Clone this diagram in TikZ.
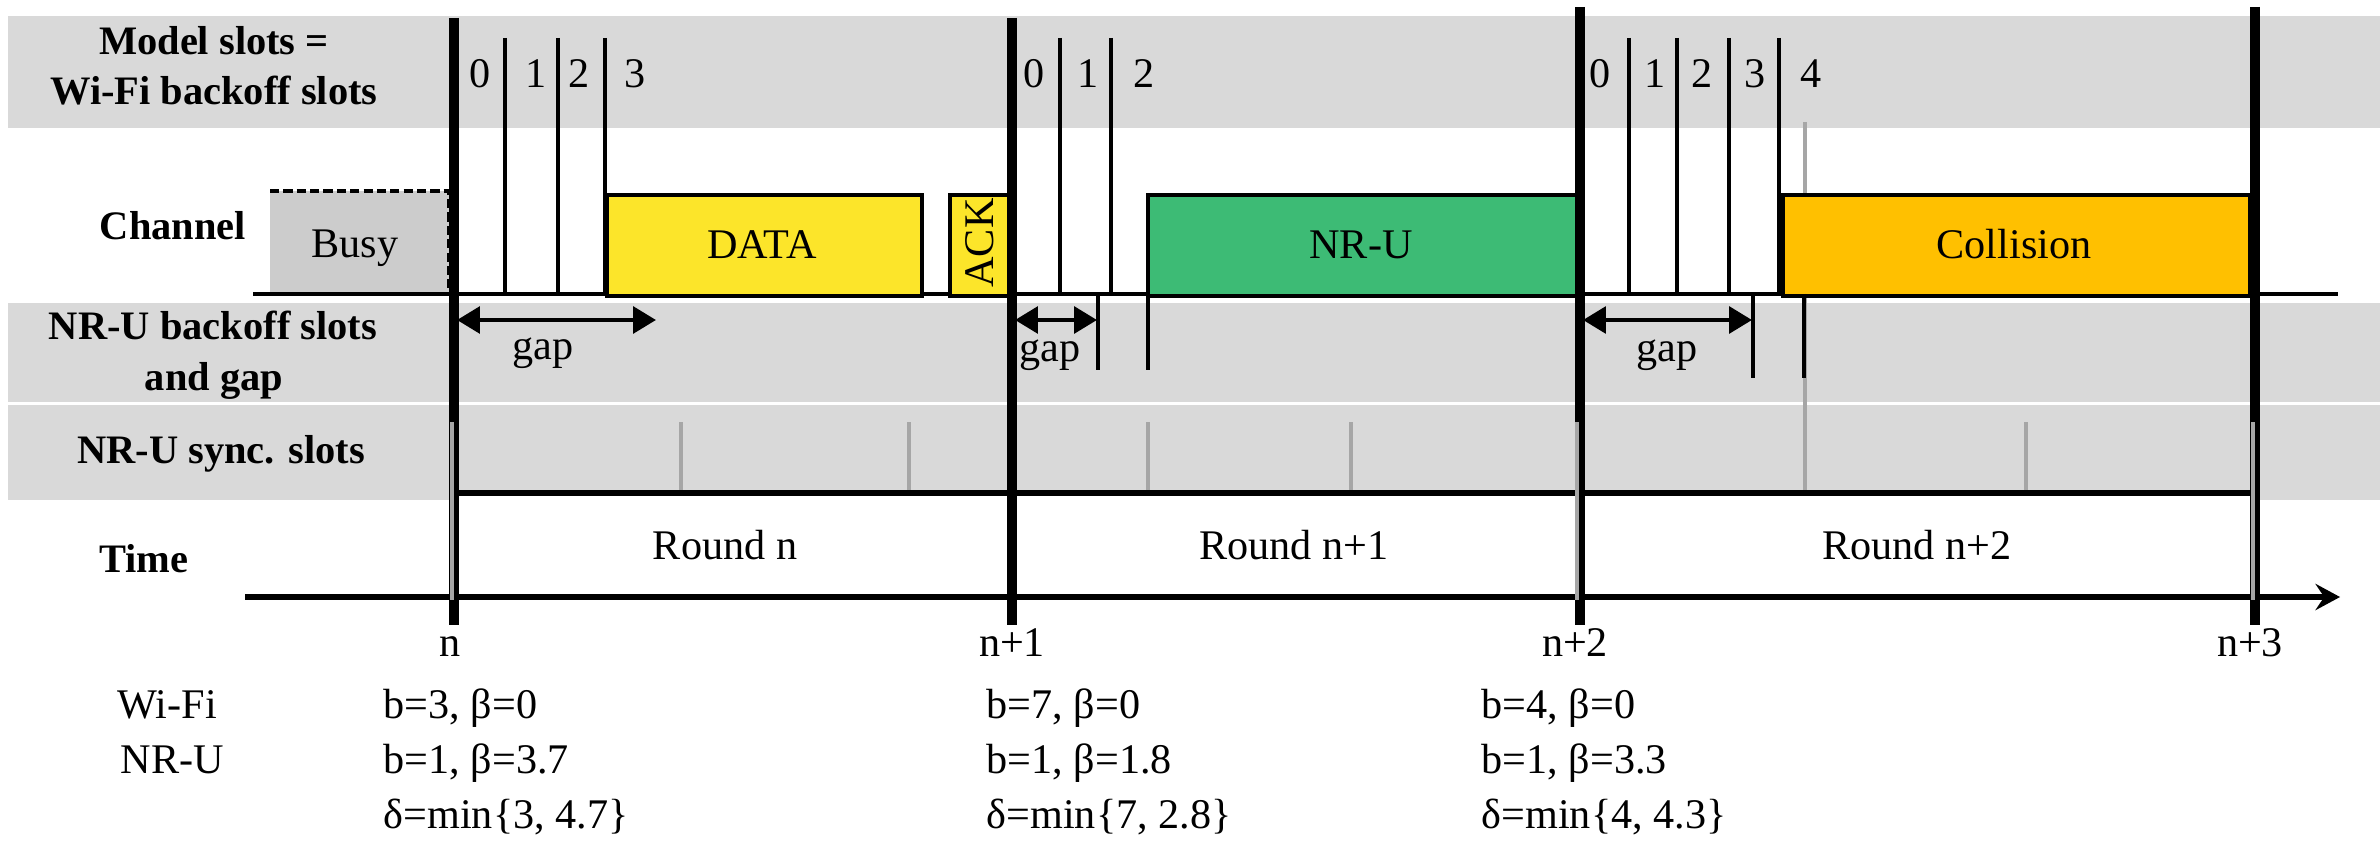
\documentclass[tikz,border=0pt]{standalone}
\usepackage{fontspec}
\setmainfont{Liberation Serif}
\usetikzlibrary{arrows.meta}
\definecolor{band}{HTML}{D9D9D9}
\definecolor{busyfill}{HTML}{CCCCCC}
\definecolor{tickgray}{HTML}{A6A6A6}
\definecolor{datayellow}{HTML}{FCE52A}
\definecolor{nrugreen}{HTML}{3DBB75}
\definecolor{collgold}{HTML}{FFC000}
\tikzset{
  lab/.style={font=\fontsize{11.5}{14}\selectfont\bfseries, inner sep=0pt, anchor=base},
  txt/.style={font=\fontsize{12}{14}\selectfont, inner sep=0pt, anchor=base},
  valtxt/.style={font=\fontsize{12}{14}\selectfont, inner sep=0pt, anchor=base west},
  bar/.style={line width=2.6pt},
  slotline/.style={line width=0.9pt},
  synctick/.style={line width=1pt, draw=tickgray},
  boxframe/.style={draw, line width=1.2pt},
  gaparrow/.style={line width=1.3pt, {Triangle[length=6.5pt,width=7.5pt]}-{Triangle[length=6.5pt,width=7.5pt]}},
  axisline/.style={line width=1.5pt},
}
\begin{document}
\begin{tikzpicture}[x=0.01cm,y=-0.01cm]
\useasboundingbox (0,0) rectangle (2380,846);
% background bands
\fill[band] (8,16) rectangle (2380,128);
\fill[band] (8,303) rectangle (2380,402);
\fill[band] (8,405) rectangle (2380,500);
\fill[white] (454,493) rectangle (2255,597);

% sync ticks (gray)
\foreach \x in {681,909,1148,1351,2026} \draw[synctick] (\x,422) -- (\x,490);
\draw[synctick] (1805,122) -- (1805,490);

% busy box
\fill[busyfill] (270,191) rectangle (449,294);
\draw[line width=1.2pt, dash pattern=on 2.6pt off 1.2pt] (270,191) -- (449,191) -- (449,294) -- (270,294);

% slot lines
\foreach \x in {505,558,605,1060,1111,1629,1677,1729,1779} \draw[slotline] (\x,38) -- (\x,294);

% channel baseline
\draw[line width=1.4pt] (253,294) -- (2338,294);

% transmissions
\node[boxframe, fill=datayellow, minimum width=315*0.01cm, minimum height=101*0.01cm, anchor=north west, inner sep=0pt] (data) at (605,193) {};
\node[txt] (datat) at (762,259) {DATA};
\node[boxframe, fill=datayellow, minimum width=59*0.01cm, minimum height=101*0.01cm, anchor=north west, inner sep=0pt] (ack) at (948,193) {};
\node[font=\fontsize{12}{14}\selectfont, inner sep=0pt, rotate=90] (ackt) at (980,243) {ACK};
\node[boxframe, fill=nrugreen, minimum width=430*0.01cm, minimum height=101*0.01cm, anchor=north west, inner sep=0pt] (nru) at (1146,193) {};
\node[txt] (nrut) at (1361,259) {NR-U};
\node[boxframe, fill=collgold, minimum width=467*0.01cm, minimum height=101*0.01cm, anchor=north west, inner sep=0pt] (coll) at (1781,193) {};
\node[txt] (collt) at (2014,259) {Collision};
\node[txt] (busyt) at (355,258) {Busy};

% NR-U backoff slot lines
\foreach \x in {1098,1148} \draw[slotline] (\x,294) -- (\x,370);
\foreach \x in {1753,1804} \draw[slotline] (\x,294) -- (\x,378);

% rounds
\draw[axisline] (454,493) -- (2255,493);
\draw[axisline, -{Stealth[length=7pt,width=7.5pt,inset=2.5pt]}] (245,597) -- (2340,597);

% round boundaries
\coordinate (r0t) at (454,18);  \coordinate (r0b) at (454,625);
\coordinate (r1t) at (1012,18); \coordinate (r1b) at (1012,625);
\coordinate (r2t) at (1580,7);  \coordinate (r2b) at (1580,625);
\coordinate (r3t) at (2255,7);  \coordinate (r3b) at (2255,625);
\draw[bar] (r0t) -- (r0b);
\draw[bar] (r1t) -- (r1b);
\draw[bar] (r2t) -- (r2b);
\draw[bar] (r3t) -- (r3b);
\foreach \x in {452,1577,2253} \draw[synctick] (\x,422) -- (\x,600);

% gap arrows
\draw[gaparrow] (457,320) -- (656,320);
\draw[gaparrow] (1015,320) -- (1097,320);
\draw[gaparrow] (1583,320) -- (1752,320);
\node[txt] (g0) at (543,360) {gap};
\node[txt] (g1) at (1050,361) {gap};
\node[txt] (g2) at (1667,361) {gap};

% slot numbers
\foreach \x/\t in {480/0,536/1,579/2,635/3,1034/0,1088/1,1144/2,1600/0,1655/1,1702/2,1755/3,1811/4}
  \node[txt] at (\x,88) {\t};

% row labels
\node[lab] (l1a) at (214,55) {Model slots =};
\node[lab] (l1b) at (214,105) {Wi-Fi backoff slots};
\node[lab] (l2) at (173,240) {Channel};
\node[lab] (l3a) at (213,340) {NR-U backoff slots};
\node[lab] (l3b) at (214,390) {and gap};
\node[lab] (l4) at (221,463) {NR-U sync. slots};
\node[lab] (l5) at (144,572) {Time};

% round names
\node[txt] (rn0) at (725,559) {Round n};
\node[txt] (rn1) at (1294,559) {Round n+1};
\node[txt] (rn2) at (1917,559) {Round n+2};

% time marks
\node[txt] (t0) at (450,656) {n};
\node[txt] (t1) at (1012,656) {n+1};
\node[txt] (t2) at (1575,656) {n+2};
\node[txt] (t3) at (2250,656) {n+3};

% values
\node[valtxt] (wf) at (117,718) {Wi-Fi};
\node[valtxt] (nr) at (120,773) {NR-U};
\node[valtxt] at (383,718) {b=3, β=0};
\node[valtxt] at (383,773) {b=1, β=3.7};
\node[valtxt] at (383,828) {δ=min\{3, 4.7\}};
\node[valtxt] at (986,718) {b=7, β=0};
\node[valtxt] at (986,773) {b=1, β=1.8};
\node[valtxt] at (986,828) {δ=min\{7, 2.8\}};
\node[valtxt] at (1481,718) {b=4, β=0};
\node[valtxt] at (1481,773) {b=1, β=3.3};
\node[valtxt] at (1481,828) {δ=min\{4, 4.3\}};
\end{tikzpicture}
\end{document}
